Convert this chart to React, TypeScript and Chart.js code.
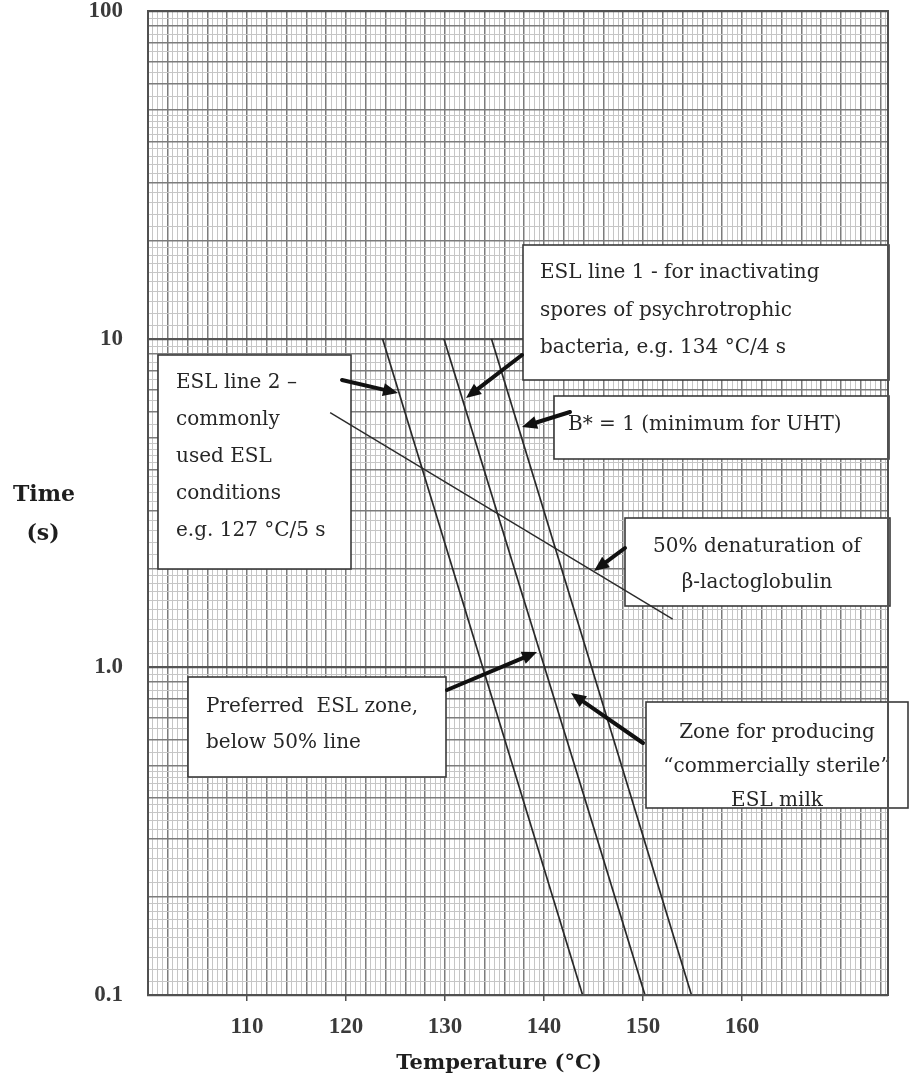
import React, { useEffect, useRef } from 'react';
import { Chart, registerables } from 'chart.js';

Chart.register(...registerables);

// ---------------- data ----------------
const xTickLabels = [110, 120, 130, 140, 150, 160];
const yTickValues = [0.1, 1, 10, 100];
const yTickLabels = ['0.1', '1.0', '10', '100'];

// steep lines: temperature (°C) vs holding time (s)
const esl2Temp = [123.7, 143.9];
const esl2Time = [10, 0.1];
const esl1Temp = [129.9, 150.2];
const esl1Time = [10, 0.1];
const bStarTemp = [134.7, 154.9];
const bStarTime = [10, 0.1];
// 50% denaturation of beta-lactoglobulin
const betaLgTemp = [118.4, 153.0];
const betaLgTime = [5.96, 1.4];

// ---------------- layout / style ----------------
const W = 912;
const H = 1082;
const X_MIN = 100;
const X_MAX = 174.75;
const Y_MIN = 0.1;
const Y_MAX = 100;
const AREA = { left: 148, top: 11, right: 888, bottom: 995 };

const TEXT_FONT = '20px "DejaVu Serif"';
const TEXT_COLOR = '#262626';

type Box = {
  x: number; y: number; w: number; h: number;
  align: 'left' | 'center';
  tx: number; base: number; lh: number;
  lines: string[];
};

const annotationBoxes: Box[] = [
  { x: 158, y: 355, w: 193, h: 214, align: 'left', tx: 176, base: 388, lh: 37,
    lines: ['ESL line 2 \u2013', 'commonly', 'used ESL', 'conditions', 'e.g. 127 \u00b0C/5 s'] },
  { x: 523, y: 245, w: 366, h: 135, align: 'left', tx: 540, base: 278, lh: 37.5,
    lines: ['ESL line 1 - for inactivating', 'spores of psychrotrophic', 'bacteria, e.g. 134 \u00b0C/4 s'] },
  { x: 554, y: 396, w: 335, h: 63, align: 'left', tx: 568, base: 430, lh: 36,
    lines: ['B* = 1 (minimum for UHT)'] },
  { x: 625, y: 518, w: 265, h: 88, align: 'center', tx: 757, base: 552, lh: 36,
    lines: ['50% denaturation of', '\u03b2-lactoglobulin'] },
  { x: 188, y: 677, w: 258, h: 100, align: 'left', tx: 206, base: 712, lh: 36,
    lines: ['Preferred  ESL zone,', 'below 50% line'] },
  { x: 646, y: 702, w: 262, h: 106, align: 'center', tx: 777, base: 738, lh: 34,
    lines: ['Zone for producing', '\u201ccommercially sterile\u201d', 'ESL milk'] },
];

// arrows: [fromX, fromY, tipX, tipY]
const annotationArrows: number[][] = [
  [342, 380, 398, 393],
  [522, 355, 466, 398],
  [570, 412, 522, 427],
  [625, 548, 594, 571],
  [447, 690, 537, 652],
  [643, 743, 571, 693],
];

function buildXGrid(): number[] {
  const v: number[] = [];
  for (let i = 0; i <= 149; i++) v.push(X_MIN + i * 0.5);
  return v;
}

function buildYGrid(): number[] {
  const mant: number[] = [];
  for (let k = 10; k < 20; k += 1) mant.push(k / 10);
  for (let k = 20; k < 50; k += 2) mant.push(k / 10);
  for (let k = 50; k < 100; k += 5) mant.push(k / 10);
  const out: number[] = [];
  for (const dec of [0.1, 1, 10]) {
    for (const m of mant) out.push(Number((m * dec).toPrecision(6)));
  }
  out.push(100);
  return out;
}

function yInfo(v: number) {
  const e = Math.floor(Math.log10(v) + 1e-9);
  const m = v / Math.pow(10, e);
  const isInt = Math.abs(m - Math.round(m)) < 1e-6;
  const isDec = Math.abs(m - 1) < 1e-6;
  return { isInt, isDec };
}

function isXMajor(v: number) {
  return Math.abs(v / 2 - Math.round(v / 2)) < 1e-6;
}

function drawArrow(ctx: CanvasRenderingContext2D, x1: number, y1: number, x2: number, y2: number) {
  const ang = Math.atan2(y2 - y1, x2 - x1);
  const headLen = 15;
  const headW = 6.5;
  const bx = x2 - headLen * Math.cos(ang);
  const by = y2 - headLen * Math.sin(ang);
  ctx.beginPath();
  ctx.moveTo(x1, y1);
  ctx.lineTo(bx, by);
  ctx.lineWidth = 4;
  ctx.strokeStyle = '#111';
  ctx.lineCap = 'round';
  ctx.stroke();
  ctx.beginPath();
  ctx.moveTo(x2, y2);
  ctx.lineTo(bx + headW * Math.sin(ang), by - headW * Math.cos(ang));
  ctx.lineTo(bx - headW * Math.sin(ang), by + headW * Math.cos(ang));
  ctx.closePath();
  ctx.fillStyle = '#111';
  ctx.fill();
}

const annotationPlugin = {
  id: 'eslAnnotations',
  beforeDatasetsDraw(chart: any) {
    const ctx: CanvasRenderingContext2D = chart.ctx;
    ctx.save();
    for (const b of annotationBoxes) {
      ctx.fillStyle = '#ffffff';
      ctx.fillRect(b.x, b.y, b.w, b.h);
      ctx.lineWidth = 1.6;
      ctx.strokeStyle = '#3a3a3a';
      ctx.strokeRect(b.x, b.y, b.w, b.h);
      ctx.font = TEXT_FONT;
      ctx.fillStyle = TEXT_COLOR;
      ctx.textAlign = b.align;
      ctx.textBaseline = 'alphabetic';
      b.lines.forEach((ln, i) => ctx.fillText(ln, b.tx, b.base + i * b.lh));
    }
    ctx.restore();
  },
  afterDatasetsDraw(chart: any) {
    const ctx: CanvasRenderingContext2D = chart.ctx;
    const a = chart.chartArea;
    ctx.save();
    ctx.lineWidth = 2;
    ctx.strokeStyle = '#505050';
    ctx.strokeRect(a.left, a.top, a.right - a.left, a.bottom - a.top);
    for (const ar of annotationArrows) drawArrow(ctx, ar[0], ar[1], ar[2], ar[3]);
    ctx.restore();
  },
  afterDraw(chart: any) {
    const ctx: CanvasRenderingContext2D = chart.ctx;
    ctx.save();
    ctx.fillStyle = '#1e1e1e';
    ctx.textAlign = 'center';
    ctx.textBaseline = 'alphabetic';
    ctx.font = 'bold 22px "DejaVu Serif"';
    ctx.fillText('Time', 44, 501);
    ctx.fillText('(s)', 43, 540);
    ctx.font = 'bold 21px "DejaVu Serif"';
    ctx.fillText('Temperature (\u00b0C)', 499, 1069);
    ctx.restore();
  },
};

const lineStyle = {
  showLine: true,
  borderColor: '#2a2a2a',
  borderWidth: 1.7,
  pointRadius: 0,
  pointHoverRadius: 0,
  fill: false,
};

function pts(xs: number[], ys: number[]) {
  return xs.map((x, i) => ({ x, y: ys[i] }));
}

const tickFont = { family: '"Liberation Serif"', size: 23, weight: 'bold' };

export default function App() {
  const ref = useRef<HTMLCanvasElement | null>(null);

  useEffect(() => {
    if (!ref.current) return;
    const xGrid = buildXGrid();
    const yGrid = buildYGrid();
    const chart = new Chart(ref.current, {
      type: 'scatter',
      data: {
        datasets: [
          { label: 'ESL line 2', data: pts(esl2Temp, esl2Time), ...lineStyle },
          { label: 'ESL line 1', data: pts(esl1Temp, esl1Time), ...lineStyle },
          { label: 'B* = 1', data: pts(bStarTemp, bStarTime), ...lineStyle },
          { label: '50% denaturation of \u03b2-lactoglobulin', data: pts(betaLgTemp, betaLgTime), ...lineStyle, borderWidth: 1.4 },
        ],
      },
      options: {
        responsive: false,
        animation: false,
        devicePixelRatio: 1,
        layout: { padding: { left: 0, right: W - AREA.right, top: AREA.top, bottom: 0 } },
        plugins: {
          legend: { display: false },
          tooltip: { enabled: false },
          title: { display: false },
        },
        scales: {
          x: {
            type: 'linear',
            min: X_MIN,
            max: X_MAX,
            afterBuildTicks: (s: any) => {
              s.ticks = xGrid.map((v) => ({ value: v }));
            },
            afterFit: (s: any) => {
              s.height = H - AREA.bottom;
              s.paddingLeft = 0;
              s.paddingRight = 0;
              s.paddingTop = 0;
              s.paddingBottom = 0;
            },
            ticks: {
              autoSkip: false,
              maxRotation: 0,
              minRotation: 0,
              padding: 12,
              color: '#3a3a3a',
              font: tickFont,
              callback: (v: any) => {
                const n = Number(v);
                return xTickLabels.some((t) => Math.abs(t - n) < 1e-6) ? String(Math.round(n)) : '';
              },
            },
            grid: {
              color: (c: any) => (isXMajor(c.tick?.value ?? 0) ? '#7c7c7c' : '#c6c6c6'),
              lineWidth: (c: any) => (isXMajor(c.tick?.value ?? 0) ? 1.5 : 1),
              drawTicks: true,
              tickLength: 6,
              tickWidth: 1.5,
              tickColor: (c: any) =>
                xTickLabels.some((t) => Math.abs(t - (c.tick?.value ?? 0)) < 1e-6) ? '#505050' : 'rgba(0,0,0,0)',
            },
            border: { display: true, color: '#505050', width: 2 },
          },
          y: {
            type: 'logarithmic',
            min: Y_MIN,
            max: Y_MAX,
            afterBuildTicks: (s: any) => {
              s.ticks = yGrid.map((v) => ({ value: v }));
            },
            afterFit: (s: any) => {
              s.width = AREA.left;
              s.paddingTop = 0;
              s.paddingBottom = 0;
              s.paddingLeft = 0;
              s.paddingRight = 0;
            },
            ticks: {
              autoSkip: false,
              padding: 25,
              color: '#3a3a3a',
              font: tickFont,
              callback: (v: any) => {
                const n = Number(v);
                const idx = yTickValues.findIndex((t) => Math.abs(t - n) / t < 1e-6);
                return idx >= 0 ? yTickLabels[idx] : '';
              },
            },
            grid: {
              drawTicks: false,
              color: (c: any) => {
                const info = yInfo(c.tick?.value ?? 1);
                return info.isDec ? '#555555' : info.isInt ? '#7c7c7c' : '#c6c6c6';
              },
              lineWidth: (c: any) => {
                const info = yInfo(c.tick?.value ?? 1);
                return info.isDec ? 2.2 : info.isInt ? 1.5 : 1;
              },
            },
            border: { display: true, color: '#505050', width: 2 },
          },
        },
      } as any,
      plugins: [annotationPlugin],
    });
    return () => chart.destroy();
  }, []);

  return (
    <div style={{ position: 'absolute', left: 0, top: 0, width: W, height: H, background: '#fff' }}>
      <canvas ref={ref} width={W} height={H} style={{ width: W, height: H, display: 'block' }} />
    </div>
  );
}
